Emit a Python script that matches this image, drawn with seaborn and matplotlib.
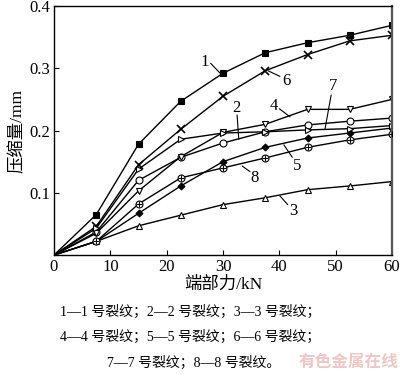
import matplotlib
matplotlib.use("Agg")
import matplotlib.pyplot as plt
import seaborn as sns
import pandas as pd

sns.set_theme(style="ticks")
plt.rcParams['font.family'] = ['Liberation Serif', 'Noto Sans CJK SC']
plt.rcParams['mathtext.fontset'] = 'stix'

force = [0, 7.5, 15, 22.5, 30, 37.5, 45, 52.5, 60]
s1 = [0, 0.065, 0.178, 0.247, 0.292, 0.325, 0.341, 0.353, 0.369]
s2 = [0, 0.037, 0.120, 0.157, 0.180, 0.198, 0.209, 0.215, 0.220]
s3 = [0, 0.022, 0.047, 0.064, 0.081, 0.092, 0.105, 0.111, 0.118]
s4 = [0, 0.035, 0.103, 0.158, 0.197, 0.210, 0.234, 0.234, 0.250]
s5 = [0, 0.022, 0.067, 0.111, 0.150, 0.173, 0.188, 0.196, 0.204]
s6 = [0, 0.046, 0.145, 0.202, 0.255, 0.296, 0.322, 0.344, 0.353]
s7 = [0, 0.043, 0.138, 0.186, 0.196, 0.198, 0.201, 0.203, 0.208]
s8 = [0, 0.022, 0.082, 0.124, 0.140, 0.156, 0.173, 0.185, 0.194]
series_names = ["1", "2", "3", "4", "5", "6", "7", "8"]
x_ticks = [0, 10, 20, 30, 40, 50, 60]
y_ticks = [0.1, 0.2, 0.3, 0.4]
caption = ["1—1 号裂纹；2—2 号裂纹；3—3 号裂纹；",
           "4—4 号裂纹；5—5 号裂纹；6—6 号裂纹；",
           "7—7 号裂纹；8—8 号裂纹。"]

values = [s1, s2, s3, s4, s5, s6, s7, s8]
styles = {
    "1": dict(marker='s', mfc='black', ms=4),
    "2": dict(marker='o', mfc='white', ms=5),
    "3": dict(marker='^', mfc='white', ms=5),
    "4": dict(marker='v', mfc='white', ms=5),
    "5": dict(marker='D', mfc='black', ms=3.5),
    "6": dict(marker='x', mfc='black', ms=6, mew=1.2),
    "7": dict(marker='>', mfc='white', ms=5),
    "8": dict(marker='o', mfc='white', ms=5),
}

df = pd.DataFrame({
    "force": force * len(values),
    "comp": [v for s in values for v in s],
    "series": [n for n in series_names for _ in force],
})

fig = plt.figure(figsize=(4.0, 3.74), dpi=100)
ax = fig.add_axes([0.135, 0.318, 0.845, 1 - 6 / 374 - 0.318])

for name in series_names:
    sub = df[df.series == name]
    st = styles[name]
    sns.lineplot(data=sub, x="force", y="comp", ax=ax, color='black', lw=1.0,
                 marker=st['marker'], markerfacecolor=st['mfc'], markeredgecolor='black',
                 markersize=st['ms'], markeredgewidth=st.get('mew', 0.8),
                 markevery=list(range(1, len(force))), legend=False)
    if name == "8":
        sns.scatterplot(x=sub.force.values[1:], y=sub.comp.values[1:], ax=ax,
                        marker='+', color='black', s=18, linewidth=0.8, zorder=5,
                        legend=False)

# series labels with leader lines
labels = [
    ("1", (26.8, 0.310), (27.8, 0.308), (29.5, 0.292)),
    ("6", (41.3, 0.279), (40.1, 0.287), (38.0, 0.296)),
    ("7", (49.6, 0.272), (49.2, 0.257), (48.1, 0.202)),
    ("4", (39.1, 0.239), (40.0, 0.235), (41.9, 0.222)),
    ("2", (32.3, 0.236), (32.5, 0.225), (32.8, 0.186)),
    ("5", (43.2, 0.143), (42.3, 0.157), (40.8, 0.177)),
    ("8", (35.6, 0.124), (34.8, 0.134), (33.4, 0.143)),
    ("3", (42.5, 0.070), (41.5, 0.081), (40.1, 0.095)),
]
for t, tp, a, b in labels:
    ax.text(tp[0], tp[1], t, fontsize=12, ha='center', va='center', color='black')
    ax.plot([a[0], b[0]], [a[1], b[1]], color='black', lw=0.8)

ax.set_xlim(0, 60)
ax.set_ylim(0, 0.4)
ax.set_xticks(x_ticks)
ax.set_xticklabels([str(v) for v in x_ticks])
ax.set_yticks(y_ticks)
ax.set_yticklabels([f"{v:.1f}" for v in y_ticks])
ax.tick_params(direction='in', length=3.5, width=0.8, labelsize=12, pad=3, colors='black')
for sp in ax.spines.values():
    sp.set_color('black')
    sp.set_linewidth(1.0)
ax.spines['right'].set_color('#555555')
ax.spines['right'].set_linewidth(1.6)
ax.set_xlabel("端部力/kN", fontsize=12.5, labelpad=1, color='black')
ax.set_ylabel("压缩量/mm", fontsize=12.5, labelpad=2, color='black')

fig.text(0.475, 1 - 312 / 374, caption[0], fontsize=10, ha='center', va='center', color='black')
fig.text(0.475, 1 - 337 / 374, caption[1], fontsize=10, ha='center', va='center', color='black')
fig.text(0.485, 1 - 363 / 374, caption[2], fontsize=10, ha='center', va='center', color='black')
fig.text(0.995, 1 - 362 / 374, "有色金属在线", fontsize=12, ha='right', va='center',
         color='#f2c6c6', family=['Noto Sans CJK SC'], fontweight='bold')

fig.savefig("out.png", dpi=100)
